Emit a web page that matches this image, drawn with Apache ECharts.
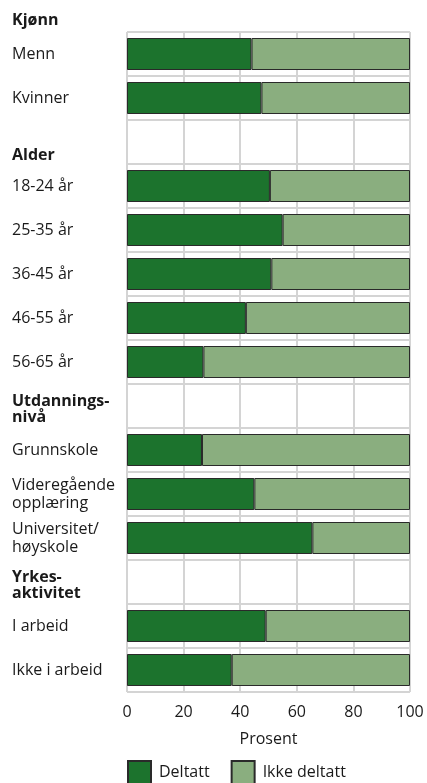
<!DOCTYPE html>
<html>
<head>
<meta charset="utf-8">
<script src="https://cdn.jsdelivr.net/npm/echarts@6/dist/echarts.min.js"></script>
<style>
html,body{margin:0;padding:0;background:#fff;}
#c{width:427px;height:783px;}
</style>
</head>
<body>
<div id="c"></div>
<script>
const topHeader = 'Kjønn';
const categories = ['Menn','Kvinner','Alder','18-24 år','25-35 år','36-45 år','46-55 år','56-65 år','Utdannings-\nnivå','Grunnskole','Videregående\nopplæring','Universitet/\nhøyskole','Yrkes-\naktivitet','I arbeid','Ikke i arbeid'];
const headerCategories = ['Alder','Utdannings-\nnivå','Yrkes-\naktivitet'];
const deltatt = [44, 47.5, null, 50.5, 55, 51, 42, 27, null, 26.5, 45, 65.5, null, 49, 37];
const ikkeDeltatt = [56, 52.5, null, 49.5, 45, 49, 58, 73, null, 73.5, 55, 34.5, null, 51, 63];
const seriesNames = ['Deltatt','Ikke deltatt'];
const xTicks = [0,20,40,60,80,100];
const xName = 'Prosent';

const FONT = 'Open Sans';
const chart = echarts.init(document.getElementById('c'), null, {renderer:'canvas'});
const gridColor = '#d4d4d4';
chart.setOption({
  animation:false,
  textStyle:{fontFamily:FONT},
  graphic:[{type:'text', left:12, top:12, style:{text:topHeader, font:'bold 16px "Open Sans"', fill:'#1a1a1a'}}],
  grid:{left:127, right:17, top:32, bottom:91, containLabel:false},
  legend:{
    left:127, top:760, padding:0, itemWidth:23, itemHeight:23, itemGap:21, icon:'rect',
    textStyle:{fontSize:16, color:'#1a1a1a', fontFamily:FONT, padding:[0,0,0,3]},
    data:seriesNames
  },
  xAxis:{
    type:'value', min:xTicks[0], max:xTicks[xTicks.length-1], interval:20,
    axisLine:{show:false}, axisTick:{show:false},
    splitLine:{show:true, lineStyle:{color:gridColor, width:2}},
    axisLabel:{fontSize:16, color:'#1a1a1a', margin:12, fontFamily:FONT},
    name:xName, nameLocation:'middle', nameGap:39,
    nameTextStyle:{fontSize:16, color:'#1a1a1a', fontFamily:FONT}
  },
  yAxis:{
    type:'category', inverse:true, data:categories,
    axisLine:{show:false}, axisTick:{show:false},
    splitLine:{show:true, lineStyle:{color:gridColor, width:2}},
    axisLabel:{
      align:'left', margin:115, fontSize:16, lineHeight:18, color:'#1a1a1a', fontFamily:FONT,
      formatter:function(v){
        if(headerCategories.indexOf(v) >= 0){
          const lines = v.split('\n');
          return lines.map(l => '{' + (lines.length===1 ? 'h1' : 'h2') + '|' + l + '}').join('\n');
        }
        return v;
      },
      rich:{
        h1:{fontWeight:'bold', fontSize:16, lineHeight:17, color:'#1a1a1a', fontFamily:FONT, padding:[26,0,0,0]},
        h2:{fontWeight:'bold', fontSize:16, lineHeight:16, color:'#1a1a1a', fontFamily:FONT, padding:[6,0,0,0]}
      }
    }
  },
  series:[
    {name:seriesNames[0], type:'bar', stack:'s', data:deltatt, barWidth:32,
     itemStyle:{color:'#1c732d', borderColor:'#2a2a2a', borderWidth:1}},
    {name:seriesNames[1], type:'bar', stack:'s', data:ikkeDeltatt, barWidth:32,
     itemStyle:{color:'#8aae7f', borderColor:'#2a2a2a', borderWidth:1}}
  ]
});
</script>
</body>
</html>
